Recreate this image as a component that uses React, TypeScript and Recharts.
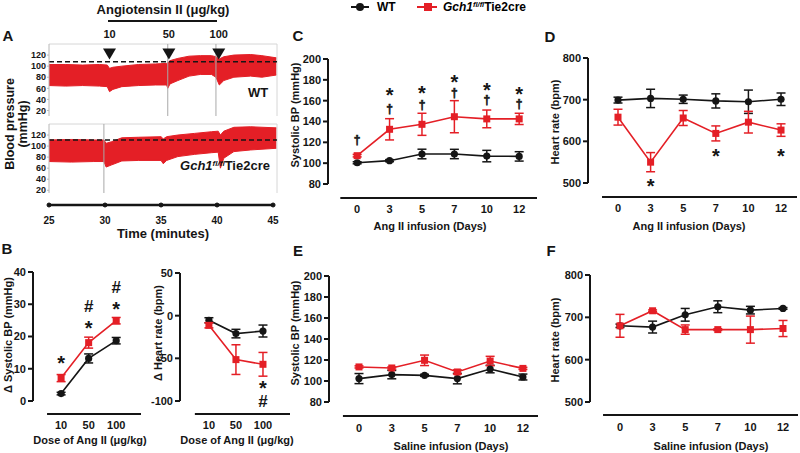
import React from 'react'
import { ComposedChart, Line, Area, Scatter, XAxis, YAxis, ErrorBar, ReferenceLine, ReferenceDot } from 'recharts'

const RED = '#e41f26'
const INK = '#151515'
const FONT = '"Liberation Sans", Arial, Helvetica, sans-serif'

// A: telemetry traces, band of each trace (mmHg) over time (minutes)
const wtTime = [25, 26.5, 28, 29.5, 30.2, 30.4, 30.7, 31.5, 33, 34.5, 35.5, 35.6, 35.8, 36.5, 37.5, 38.5, 39.5, 39.9, 40.2, 40.6, 41.5, 43, 44, 45.3]
const wtLow = [65, 64, 65, 64, 63, 54, 58, 63, 65, 66, 66, 60, 68, 74, 82, 85, 85, 80, 66, 74, 80, 82, 80, 84]
const wtHigh = [103, 103, 102, 103, 102, 96, 98, 100, 103, 104, 105, 106, 110, 114, 118, 119, 119, 117, 113, 117, 120, 121, 119, 115]
const gchTime = [25, 27, 29, 29.9, 30.1, 30.6, 31.5, 33, 35, 35.2, 35.5, 36.5, 38, 39.5, 40.1, 40.3, 40.6, 41.5, 43, 45.3]
const gchLow = [72, 71, 72, 72, 62, 66, 73, 74, 74, 68, 74, 81, 85, 88, 89, 60, 78, 90, 93, 96]
const gchHigh = [111, 112, 111, 111, 105, 108, 115, 116, 117, 113, 117, 120, 123, 126, 127, 120, 127, 134, 135, 133]
const wtBaseline = 108
const gchBaseline = 111
const wtArtifacts = [35.6, 39.9]
const gchArtifacts = [29.9]
const doseTimes = [30.4, 35.7, 40.15]
const doseLabels = ['10', '50', '100']
const timeTicks = [25, 30, 35, 40, 45]
const traceTicks = [20, 40, 60, 80, 100, 120]

// B: acute dose response
const doseCats = ['10', '50', '100']
const dSbpWt = [2.3, 13.2, 18.7]
const dSbpWtErr = [0.4, 1.4, 1.0]
const dSbpGch = [7.1, 18.1, 24.9]
const dSbpGchErr = [1.1, 1.7, 1.0]
const dHrWt = [-5.4, -21, -18]
const dHrWtErr = [3, 5, 7]
const dHrGch = [-11.3, -51.5, -57]
const dHrGchErr = [3, 17.4, 13.9]

// C-F: chronic infusion
const dayCats = ['0', '3', '5', '7', '10', '12']
const angSbpWt = [100.4, 102.4, 108.8, 108.8, 106.8, 106.5]
const angSbpWtErr = [1, 1, 4.6, 4.5, 5.5, 4.5]
const angSbpGch = [107.2, 132.5, 137.3, 144.6, 142.5, 142.5]
const angSbpGchErr = [1.2, 10.2, 10.6, 15.4, 8.5, 5.4]
const angHrWt = [699, 703, 701, 697, 695, 701]
const angHrWtErr = [7, 22, 10, 17, 28, 15]
const angHrGch = [658, 550, 656, 619, 646, 627]
const angHrGchErr = [19, 23, 18, 18, 26, 15]
const salSbpWt = [102.3, 106.1, 105.4, 102.3, 111.4, 103.8]
const salSbpWtErr = [4.8, 4, 1, 5, 3.6, 2.8]
const salSbpGch = [113.4, 112.4, 119.7, 108.6, 119, 112]
const salSbpGchErr = [1, 1, 5, 2, 4.5, 1]
const salHrWt = [680, 677, 706, 725, 717, 721]
const salHrWtErr = [4, 14, 15, 14, 9, 2]
const salHrGch = [680, 715.5, 671, 671, 671, 673.6]
const salHrGchErr = [27, 2, 11, 2, 32, 19]

type Mark = { i: number; v: number; s: string }
const dSbpMarks: Mark[] = [
  { i: 0, v: 12.9, s: '*' }, { i: 1, v: 23.6, s: '*' }, { i: 1, v: 29.5, s: '#' },
  { i: 2, v: 29.5, s: '*' }, { i: 2, v: 35.3, s: '#' },
]
const dHrMarks: Mark[] = [{ i: 2, v: -80.4, s: '*' }, { i: 2, v: -100, s: '#' }]
const angSbpMarks: Mark[] = [
  { i: 0, v: 121.6, s: '†' }, { i: 1, v: 151.7, s: '†' }, { i: 2, v: 155.8, s: '†' },
  { i: 3, v: 167, s: '†' }, { i: 4, v: 160, s: '†' }, { i: 5, v: 156.5, s: '†' },
  { i: 1, v: 168.6, s: '*' }, { i: 2, v: 170.9, s: '*' }, { i: 3, v: 181.5, s: '*' },
  { i: 4, v: 173.4, s: '*' }, { i: 5, v: 169.3, s: '*' },
]
const angHrMarks: Mark[] = [{ i: 1, v: 500, s: '*' }, { i: 3, v: 573, s: '*' }, { i: 5, v: 573, s: '*' }]

const tickStyle = { fill: INK, fontSize: 11, fontWeight: 700 }

const markShape = (props: any) => {
  const { cx, cy, payload } = props
  const s = payload.s
  const size = s === '*' ? 20 : s === '#' ? 17 : 12
  const lift = s === '*' ? 0.52 : s === '#' ? 0.36 : 0.3
  return (
    <text x={cx} y={cy + size * lift} textAnchor="middle" fontSize={size} fontWeight={700} fill={INK}
      stroke={s === '†' ? INK : 'none'} strokeWidth={0.6} style={{ fontFamily: FONT }}>
      {s}
    </text>
  )
}

const squareDot = (props: any) => (
  <rect key={`sq${props.index}`} x={props.cx - 3.5} y={props.cy - 3.5} width={7} height={7} fill={RED} />
)

const YW = 45
const MT = 12
const MR = 12
const XH = 40

type PanelProps = {
  left: number; top: number; w: number; h: number
  cats: string[]; xMin: number; xMax: number; lineFrom: number; lineY: number
  yMin: number; yMax: number; yTicks: number[]
  wt: number[]; wtErr: number[]; gch: number[]; gchErr: number[]
  marks: Mark[]; labelGap: number
}

function PrismPanel(p: PanelProps) {
  const data = p.cats.map((c, i) => ({ i, wt: p.wt[i], wtErr: p.wtErr[i], gch: p.gch[i], gchErr: p.gchErr[i] }))
  return (
    <div style={{ position: 'absolute', left: p.left - YW, top: p.top - MT }}>
      <ComposedChart width={YW + p.w + MR} height={MT + p.h + XH} data={data} margin={{ top: MT, right: MR, bottom: 0, left: 0 }}>
        <XAxis dataKey="i" type="number" domain={[p.xMin, p.xMax]} ticks={p.cats.map((_, i) => i)}
          tickFormatter={(v) => p.cats[v]} axisLine={false} tickLine={false} tickSize={6} tickMargin={p.labelGap}
          height={XH} tick={tickStyle} interval={0} />
        <YAxis type="number" domain={[p.yMin, p.yMax]} ticks={p.yTicks} width={YW} interval={0}
          axisLine={{ stroke: INK, strokeWidth: 2 }} tickLine={{ stroke: INK, strokeWidth: 2 }}
          tickSize={5} tickMargin={2} tick={tickStyle} />
        <ReferenceLine segment={[{ x: p.lineFrom, y: p.lineY }, { x: p.xMax, y: p.lineY }]}
          stroke={INK} strokeWidth={2} ifOverflow="visible" />
        <Line dataKey="wt" stroke={INK} strokeWidth={1.6} dot={{ r: 3.6, fill: INK, stroke: INK, strokeWidth: 0 }}
          isAnimationActive={false}>
          <ErrorBar dataKey="wtErr" direction="y" width={4.5} stroke={INK} strokeWidth={1.5} />
        </Line>
        <Line dataKey="gch" stroke={RED} strokeWidth={1.6} dot={squareDot} isAnimationActive={false}>
          <ErrorBar dataKey="gchErr" direction="y" width={4.5} stroke={RED} strokeWidth={1.5} />
        </Line>
        <Scatter data={p.marks} dataKey="v" shape={markShape} isAnimationActive={false} />
      </ComposedChart>
    </div>
  )
}

const YWA = 45
const TL = 49
const TW = 228
const TXMAX = 45.35

function TraceChart(props: {
  top: number; h: number; yMin: number; time: number[]; low: number[]; high: number[]
  baseline: number; artifacts: number[]; doses?: boolean; axis?: boolean
}) {
  const rows = props.time.map((t, k) => ({ t, lo: props.low[k], hi: props.high[k] }))
  const axisY = props.yMin - 12 / (props.h / (140 - props.yMin))
  const mt = props.doses ? 32 : MT
  return (
    <div style={{ position: 'absolute', left: TL - YWA, top: props.top - mt }}>
      <ComposedChart width={YWA + TW + 6} height={mt + props.h + (props.axis ? 40 : 4)} data={rows}
        margin={{ top: mt, right: 6, bottom: props.axis ? 0 : 4, left: 0 }}>
        <XAxis dataKey="t" type="number" domain={[25, TXMAX]} ticks={timeTicks} hide={!props.axis}
          axisLine={false} tickLine={false} tickSize={6} tickMargin={18} height={40}
          tick={{ fill: INK, fontSize: 10, fontWeight: 700 }} interval={0} />
        <YAxis type="number" domain={[props.yMin, 140]} ticks={traceTicks} width={YWA} interval={0}
          axisLine={{ stroke: '#b8b8b8', strokeWidth: 1 }} tickLine={{ stroke: '#b8b8b8' }} tickSize={2} tickMargin={1}
          tick={{ fill: INK, fontSize: 9, fontWeight: 700 }} />
        <ReferenceLine y={140} stroke="#d6d6d6" strokeWidth={1} />
        <ReferenceLine x={TXMAX} stroke="#d6d6d6" strokeWidth={1} />
        <Area dataKey={(d: any) => [d.lo, d.hi]} type="linear" fill={RED} fillOpacity={1} stroke={RED}
          strokeWidth={1} isAnimationActive={false} />
        {props.artifacts.map((t) => (
          <ReferenceLine key={t} x={t} stroke="#a9a9a9" strokeWidth={1} />
        ))}
        <ReferenceLine y={props.baseline} stroke={INK} strokeWidth={1.5} strokeDasharray="5 3" />
        {props.doses && doseTimes.map((t, k) => (
          <ReferenceDot key={t} x={t} y={122} r={0}
            shape={(s: any) => (
              <g>
                <path d={`M${s.cx - 6.5},${s.cy - 5.5} L${s.cx + 6.5},${s.cy - 5.5} L${s.cx},${s.cy + 5.5} Z`} fill={INK} />
                <text x={s.cx} y={s.cy - 16} textAnchor="middle" fontSize={11} fontWeight={700} fill={INK}>{doseLabels[k]}</text>
              </g>
            )} />
        ))}
        {props.axis && (
          <ReferenceLine segment={[{ x: 25, y: axisY }, { x: 45, y: axisY }]} stroke={INK} strokeWidth={2.5} ifOverflow="visible" />
        )}
        {props.axis && timeTicks.map((t) => (
          <ReferenceDot key={`tk${t}`} x={t} y={axisY} r={2} fill={INK} stroke={INK} ifOverflow="visible" />
        ))}
      </ComposedChart>
    </div>
  )
}

function T(props: { x: number; y: number; size: number; children: React.ReactNode; rot?: boolean }) {
  return (
    <div style={{
      position: 'absolute', left: props.x, top: props.y, fontSize: props.size, fontWeight: 700, color: INK,
      whiteSpace: 'nowrap', lineHeight: 1.05, textAlign: 'center',
      transform: `translate(-50%, -50%)${props.rot ? ' rotate(-90deg)' : ''}`,
    }}>
      {props.children}
    </div>
  )
}

const GchName = () => (
  <span><i>Gch1</i><i style={{ fontSize: '0.62em', position: 'relative', top: '-0.55em' }}>fl/fl</i>Tie2cre</span>
)

export default function App() {
  return (
    <div style={{ position: 'absolute', left: 0, top: 0, width: 800, height: 453, background: '#fff', overflow: 'hidden', fontFamily: FONT }}>
      {/* A */}
      <T x={8} y={36} size={15}>A</T>
      <T x={163} y={10} size={13}>Angiotensin II (μg/kg)</T>
      <div style={{ position: 'absolute', left: 108, top: 20, width: 109, height: 2, background: INK }} />
      <TraceChart top={44} h={72} yMin={10} time={wtTime} low={wtLow} high={wtHigh} baseline={wtBaseline}
        artifacts={wtArtifacts} doses />
      <TraceChart top={124} h={69} yMin={15} time={gchTime} low={gchLow} high={gchHigh} baseline={gchBaseline}
        artifacts={gchArtifacts} axis />
      <T x={258} y={93} size={13}>WT</T>
      <T x={225} y={166} size={13}><GchName /></T>
      <T x={17} y={124} size={12.5} rot>Blood pressure<br />(mmHg)</T>
      <T x={163} y={234} size={13}>Time (minutes)</T>

      {/* B */}
      <T x={7} y={249} size={15}>B</T>
      <PrismPanel left={33} top={272} w={108} h={129} cats={doseCats} xMin={-1.02} xMax={2.9} lineFrom={-0.51}
        lineY={-4.03} yMin={0} yMax={40} yTicks={[0, 10, 20, 30, 40]} wt={dSbpWt} wtErr={dSbpWtErr}
        gch={dSbpGch} gchErr={dSbpGchErr} marks={dSbpMarks} labelGap={14} />
      <PrismPanel left={180} top={273} w={110} h={128} cats={doseCats} xMin={-1.07} xMax={3.0} lineFrom={-0.52}
        lineY={-115.2} yMin={-100} yMax={50} yTicks={[-100, -50, 0, 50]} wt={dHrWt} wtErr={dHrWtErr}
        gch={dHrGch} gchErr={dHrGchErr} marks={dHrMarks} labelGap={14} />
      <T x={9} y={335} size={11} rot>Δ Systolic BP (mmHg)</T>
      <T x={159} y={333} size={11} rot>Δ Heart rate (bpm)</T>
      <T x={90} y={441} size={11}>Dose of Ang II (μg/kg)</T>
      <T x={237} y={441} size={11}>Dose of Ang II (μg/kg)</T>

      {/* legend */}
      <svg style={{ position: 'absolute', left: 345, top: 0 }} width={100} height={16}>
        <line x1={6} y1={7} x2={24} y2={7} stroke={INK} strokeWidth={2} />
        <circle cx={15} cy={7} r={4} fill={INK} />
        <line x1={72} y1={7} x2={92} y2={7} stroke={RED} strokeWidth={2} />
        <rect x={79} y={3} width={8} height={8} fill={RED} />
      </svg>
      <div style={{ position: 'absolute', left: 377, top: 0, fontSize: 12, fontWeight: 700, lineHeight: '15px' }}>WT</div>
      <div style={{ position: 'absolute', left: 443, top: 0, fontSize: 12, fontWeight: 700, lineHeight: '15px' }}><GchName /></div>

      {/* C */}
      <T x={298} y={36} size={15}>C</T>
      <PrismPanel left={328} top={59} w={209} h={125} cats={dayCats} xMin={-0.9} xMax={5.55} lineFrom={-0.52}
        lineY={66.6} yMin={80} yMax={200} yTicks={[80, 100, 120, 140, 160, 180, 200]} wt={angSbpWt} wtErr={angSbpWtErr}
        gch={angSbpGch} gchErr={angSbpGchErr} marks={angSbpMarks} labelGap={15} />
      <T x={296} y={115} size={11} rot>Systolic BP (mmHg)</T>
      <T x={430} y={227} size={11}>Ang II infusion (Days)</T>

      {/* D */}
      <T x={550} y={37} size={15}>D</T>
      <PrismPanel left={588} top={58} w={209} h={125} cats={dayCats} xMin={-0.92} xMax={5.49} lineFrom={-0.49}
        lineY={466.4} yMin={500} yMax={800} yTicks={[500, 600, 700, 800]} wt={angHrWt} wtErr={angHrWtErr}
        gch={angHrGch} gchErr={angHrGchErr} marks={angHrMarks} labelGap={15} />
      <T x={556} y={122} size={11} rot>Heart rate (bpm)</T>
      <T x={689} y={227} size={11}>Ang II infusion (Days)</T>

      {/* E */}
      <T x={298} y={251} size={15}>E</T>
      <PrismPanel left={329} top={276} w={209} h={126} cats={dayCats} xMin={-0.915} xMax={5.46} lineFrom={-0.49}
        lineY={66.7} yMin={80} yMax={200} yTicks={[80, 100, 120, 140, 160, 180, 200]} wt={salSbpWt} wtErr={salSbpWtErr}
        gch={salSbpGch} gchErr={salSbpGchErr} marks={[]} labelGap={16} />
      <T x={296} y={333} size={11} rot>Systolic BP (mmHg)</T>
      <T x={451} y={447} size={11}>Saline infusion (Days)</T>

      {/* F */}
      <T x={551} y={251} size={15}>F</T>
      <PrismPanel left={590} top={275} w={208} h={127} cats={dayCats} xMin={-0.92} xMax={5.46} lineFrom={-0.52}
        lineY={469} yMin={500} yMax={800} yTicks={[500, 600, 700, 800]} wt={salHrWt} wtErr={salHrWtErr}
        gch={salHrGch} gchErr={salHrGchErr} marks={[]} labelGap={15} />
      <T x={556} y={340} size={11} rot>Heart rate (bpm)</T>
      <T x={711} y={447} size={11}>Saline infusion (Days)</T>
    </div>
  )
}
